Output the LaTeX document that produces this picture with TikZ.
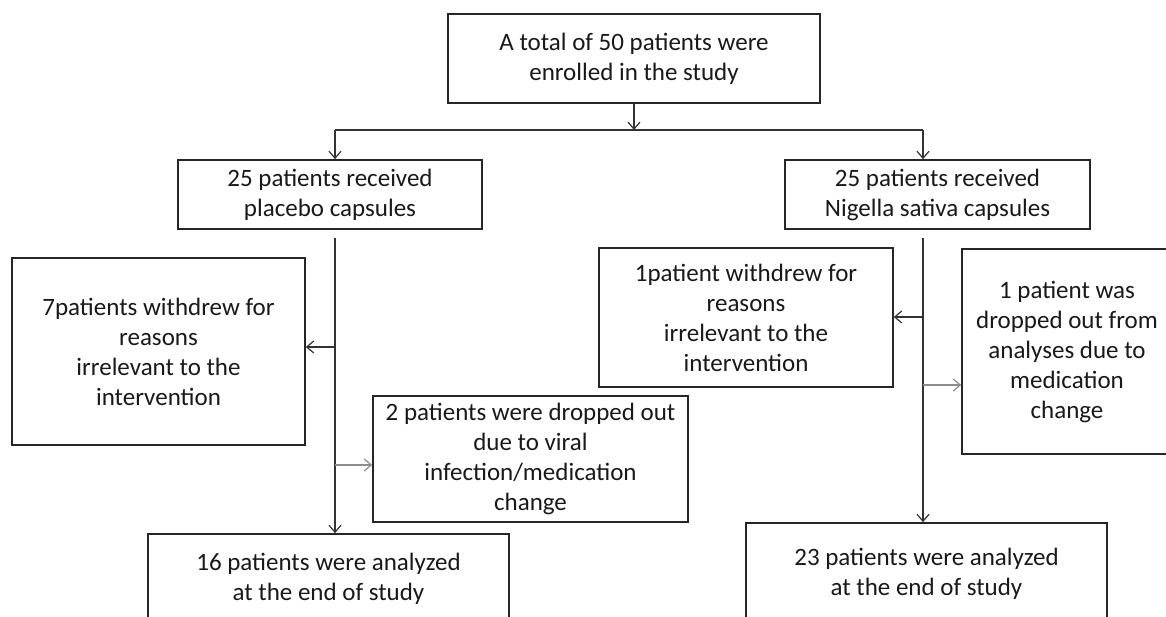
\documentclass[tikz,border=0pt]{standalone}
\usepackage{fontspec}
\setmainfont{Carlito}
\usetikzlibrary{arrows.meta}
\begin{document}
\begin{tikzpicture}[x=1pt,y=-1pt,
  box/.style={draw=black!85, line width=1.7pt, rectangle, inner sep=0pt, align=center,
    font=\fontsize{25}{30}\selectfont, text=black!90},
  conn/.style={draw=black!80, line width=1.2pt},
  arr/.style={conn, -{Straight Barb[length=7pt,width=12pt,line width=1.2pt]}},
  garr/.style={arr, draw=black!45}]
\useasboundingbox (0,0) rectangle (1166,616);
\clip (0,0) rectangle (1166,616);
\fill[white] (0,0) rectangle (1166,616);

\node[box, minimum width=372pt, minimum height=89pt] (top) at (634,58.5)
  {A total of 50 patients were\\enrolled in the study};
\node[box, minimum width=304pt, minimum height=69pt] (placebo) at (330,194.5)
  {25 patients received\\placebo capsules};
\node[box, minimum width=305pt, minimum height=69pt] (nigella) at (937.5,194.5)
  {25 patients received\\Nigella sativa capsules};
\node[box, minimum width=293pt, minimum height=187pt] (seven) at (158.5,351.5)
  {7patients withdrew for\\reasons\\irrelevant to the\\intervention};
\node[box, minimum width=315pt, minimum height=126pt] (two) at (530.5,459)
  {2 patients were dropped out\\due to viral\\infection/medication\\change};
\node[box, minimum width=294pt, minimum height=139pt] (onew) at (746,317.5)
  {1patient withdrew for\\reasons\\irrelevant to the\\intervention};
\node[box, minimum width=210pt, minimum height=205pt] (drop) at (1067,351.5)
  {1 patient was\\dropped out from\\analyses due to\\medication\\change};
\node[box, minimum width=361pt, minimum height=90pt] (lbot) at (328.5,579)
  {16 patients were analyzed\\at the end of study};
\node[box, minimum width=361pt, minimum height=102pt] (rbot) at (926.5,574)
  {23 patients were analyzed\\at the end of study};

\coordinate (j) at (634,130);
\coordinate (bl) at (335,130);
\coordinate (br) at (923,130);
\coordinate (ls) at (335,238);
\coordinate (rs) at (923,238);
\coordinate (l1) at (335,347);
\coordinate (l2) at (335,465);
\coordinate (r1) at (923,317);
\coordinate (r2) at (923,385);

\draw[arr] (top.south) -- (j);
\draw[conn] (bl) -- (br);
\draw[arr] (bl) -- (placebo.north -| bl);
\draw[arr] (br) -- (nigella.north -| br);
\draw[arr] (ls) -- (lbot.north -| ls);
\draw[arr] (rs) -- (rbot.north -| rs);
\draw[arr] (l1) -- (seven.east |- l1);
\draw[garr] (l2) -- (two.west |- l2);
\draw[arr] (r1) -- (onew.east |- r1);
\draw[garr] (r2) -- (drop.west |- r2);
\end{tikzpicture}
\end{document}
